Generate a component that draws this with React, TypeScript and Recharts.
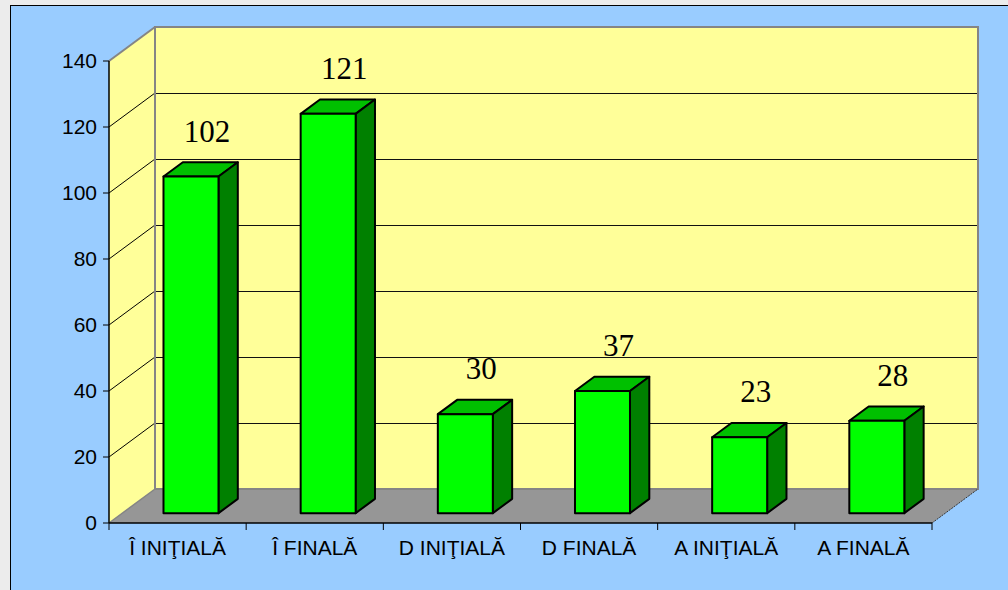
import { Bar, BarChart, ReferenceArea, XAxis, YAxis } from "recharts";

const categories = ["Î INIŢIALĂ", "Î FINALĂ", "D INIŢIALĂ", "D FINALĂ", "A INIŢIALĂ", "A FINALĂ"];
const values = [102, 121, 30, 37, 23, 28];
const yTicks = [0, 20, 40, 60, 80, 100, 120, 140];

const data = categories.map((name, i) => ({ name, value: values[i] }));

// how far the back wall sits behind the front plane
const DEPTH_X = 46;
const DEPTH_Y = -34;
// bars sit between these fractions of the depth
const BAR_FRONT = 0.29;
const BAR_BACK = 0.71;

const SANS = "'Liberation Sans', Arial, sans-serif";
const SERIF = "'Liberation Serif', 'Times New Roman', serif";

function Room(props: any) {
    const { x, y, width, height } = props;
    const x0 = x;
    const x1 = x + width;
    const top = y;
    const bot = y + height;
    const max = yTicks[yTicks.length - 1];
    const pts = (arr: number[][]) => arr.map((p) => p.join(",")).join(" ");
    const n = categories.length;

    return (
        <g>
            <polygon
                points={pts([[x0 + DEPTH_X, top + DEPTH_Y], [x1 + DEPTH_X, top + DEPTH_Y], [x1 + DEPTH_X, bot + DEPTH_Y], [x0 + DEPTH_X, bot + DEPTH_Y]])}
                fill="#ffff99"
            />
            <polygon
                points={pts([[x0, top], [x0 + DEPTH_X, top + DEPTH_Y], [x0 + DEPTH_X, bot + DEPTH_Y], [x0, bot]])}
                fill="#ffff99"
            />
            <polygon
                points={pts([[x0, bot], [x0 + DEPTH_X, bot + DEPTH_Y], [x1 + DEPTH_X, bot + DEPTH_Y], [x1, bot]])}
                fill="#969696"
            />
            {yTicks.filter((v) => v > 0 && v < max).map((v) => {
                const yy = bot - (v / max) * height;
                return (
                    <g key={v}>
                        <line x1={x0} y1={yy} x2={x0 + DEPTH_X} y2={yy + DEPTH_Y} stroke="#000" strokeWidth={1} />
                        <line
                            x1={x0 + DEPTH_X}
                            y1={yy + DEPTH_Y + 0.5}
                            x2={x1 + DEPTH_X}
                            y2={yy + DEPTH_Y + 0.5}
                            stroke="#111"
                            strokeWidth={1}
                            shapeRendering="crispEdges"
                        />
                    </g>
                );
            })}
            <rect
                x={x0 + DEPTH_X}
                y={top + DEPTH_Y}
                width={width}
                height={height}
                fill="none"
                stroke="#858585"
                strokeWidth={2}
            />
            <line x1={x0} y1={top} x2={x0 + DEPTH_X} y2={top + DEPTH_Y} stroke="#858585" strokeWidth={2} />
            <line x1={x0} y1={bot} x2={x0 + DEPTH_X} y2={bot + DEPTH_Y} stroke="#858585" strokeWidth={1.5} />
            <line x1={x1} y1={bot} x2={x1 + DEPTH_X} y2={bot + DEPTH_Y} stroke="#333" strokeWidth={1} strokeDasharray="2 1" />
            {Array.from({ length: n + 1 }, (_, i) => {
                const xx = x0 + (i * width) / n;
                return <line key={i} x1={xx} y1={bot} x2={xx} y2={bot + 7} stroke="#000" strokeWidth={1} />;
            })}
        </g>
    );
}

function Prism(props: any) {
    const { x, y, width, height, payload } = props;
    const ox = DEPTH_X * BAR_FRONT;
    const oy = DEPTH_Y * BAR_FRONT;
    const bx = DEPTH_X * (BAR_BACK - BAR_FRONT);
    const by = DEPTH_Y * (BAR_BACK - BAR_FRONT);
    const fx = x + ox;
    const fy = y + oy;
    const pts = (arr: number[][]) => arr.map((p) => p.join(",")).join(" ");

    return (
        <g stroke="#000" strokeWidth={2} strokeLinejoin="round">
            <polygon
                points={pts([[fx, fy], [fx + bx, fy + by], [fx + width + bx, fy + by], [fx + width, fy]])}
                fill="#00c000"
            />
            <polygon
                points={pts([[fx + width, fy], [fx + width + bx, fy + by], [fx + width + bx, fy + height + by], [fx + width, fy + height]])}
                fill="#008000"
            />
            <rect x={fx} y={fy} width={width} height={height} fill="#00ff00" />
            <text
                x={fx + width / 2 + 16}
                y={fy - 35}
                textAnchor="middle"
                fontFamily={SERIF}
                fontSize={31}
                fill="#000"
                stroke="none"
            >
                {payload.value}
            </text>
        </g>
    );
}

function CategoryTick(props: any) {
    const { x, y, payload } = props;
    return (
        <text x={x} y={y + 32} textAnchor="middle" fontFamily={SANS} fontSize={21} fill="#000">
            {payload.value}
        </text>
    );
}

export default function App() {
    return (
        <div style={{ position: "absolute", left: 0, top: 0, width: 1008, height: 590, background: "#ececec", overflow: "hidden" }}>
            <div
                style={{
                    position: "absolute",
                    left: 10,
                    top: 5,
                    width: 998,
                    height: 585,
                    background: "#99ccff",
                    borderTop: "1px solid #000",
                    borderLeft: "1px solid #000",
                    boxSizing: "border-box",
                }}
            />
            <div style={{ position: "absolute", left: 0, top: 0 }}>
                <BarChart width={1008} height={590} data={data} margin={{ top: 61, right: 76, bottom: 0, left: 0 }} barCategoryGap="30%">
                    <ReferenceArea y1={0} y2={140} shape={<Room />} fill="none" stroke="none" ifOverflow="visible" />
                    <XAxis
                        dataKey="name"
                        height={67}
                        axisLine={{ stroke: "#000", strokeWidth: 1.5 }}
                        tickLine={false}
                        tickSize={0}
                        tickMargin={0}
                        interval={0}
                        tick={<CategoryTick />}
                    />
                    <YAxis
                        width={109}
                        domain={[0, 140]}
                        ticks={yTicks}
                        interval={0}
                        axisLine={{ stroke: "#000", strokeWidth: 1.5 }}
                        tickLine={{ stroke: "#000" }}
                        tickSize={6}
                        tickMargin={6}
                        tick={{ fill: "#000", fontSize: 21, fontFamily: SANS }}
                    />
                    <Bar dataKey="value" shape={<Prism />} isAnimationActive={false} />
                </BarChart>
            </div>
        </div>
    );
}
